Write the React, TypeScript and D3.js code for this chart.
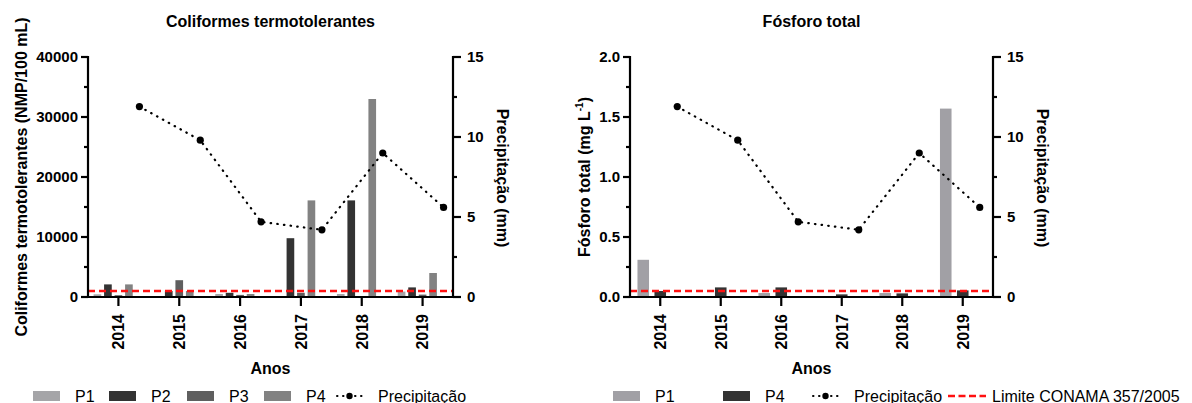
import React from 'react';
import * as d3 from 'd3';

// values
const years = ['2014', '2015', '2016', '2017', '2018', '2019'];
const coliP1 = [450, 80, 500, 50, 500, 900];
const coliP2 = [2100, 1000, 700, 9800, 16100, 1600];
const coliP3 = [300, 2800, 350, 700, 100, 400];
const coliP4 = [2100, 1000, 500, 16100, 33000, 4000];
const fosP1 = [0.31, 0, 0.033, 0, 0.033, 1.57];
const fosP4 = [0.05, 0.08, 0.08, 0.022, 0.03, 0.055];
const precip = [11.9, 9.8, 4.7, 4.2, 9.0, 5.6];
const coliLimit = 1000;
const fosLimit = 0.05;
const coliTicks = [0, 10000, 20000, 30000, 40000];
const fosTicks = [0, 0.5, 1.0, 1.5, 2.0];
const precTicks = [0, 5, 10, 15];

const FONT = '"Liberation Sans", Arial, Helvetica, sans-serif';
const TOP = 57;
const BASE = 297;

type Series = { key: string; values: number[]; color: string };

type PanelProps = {
  xRange: [number, number];
  yMax: number;
  yTicks: number[];
  yFmt: (v: number) => string;
  series: Series[];
  slotHalf: number;
  slotPad: number;
  limit: number;
  title: string;
  yLabel: React.ReactNode;
  yLabelX: number;
  precLabelX: number;
};

const Panel = ({ xRange, yMax, yTicks, yFmt, series, slotHalf, slotPad, limit, title, yLabel, yLabelX, precLabelX }: PanelProps) => {
  const x0 = d3.scaleBand().domain(years).range(xRange);
  const y = d3.scaleLinear().domain([0, yMax]).range([BASE, TOP]);
  const yP = d3.scaleLinear().domain([0, 15]).range([BASE, TOP]);
  const slots = [...series.map(s => s.key), 'prec'];
  const x1 = d3.scaleBand().domain(slots).range([-slotHalf, slotHalf]).paddingInner(slotPad).paddingOuter(slotPad / 2);
  const cx = (yr: string) => (x0(yr) as number) + x0.bandwidth() / 2;
  const precX = (i: number) => cx(years[i]) + (x1('prec') as number) + x1.bandwidth() / 2;

  const line = d3.line<number>().x((_, i) => precX(i)).y(d => yP(d));

  const [left, right] = xRange;
  const yStep = yTicks[1] - yTicks[0];
  const minor = yTicks.slice(0, -1).map(t => t + yStep / 2);
  const precMinor = [2.5, 7.5, 12.5];
  const mid = (left + right) / 2;

  return (
    <g>
      <text x={mid} y={27} textAnchor="middle" fontSize={16} fontWeight="bold">{title}</text>

      {/* bars */}
      {series.map(s => (
        <g key={s.key}>
          {s.values.map((v, i) => (
            <rect key={i}
              x={cx(years[i]) + (x1(s.key) as number)}
              y={y(v)}
              width={x1.bandwidth()}
              height={BASE - y(v)}
              fill={s.color} />
          ))}
        </g>
      ))}

      {/* limit */}
      <line x1={left} x2={right} y1={y(limit)} y2={y(limit)} stroke="#ff1010" strokeWidth={2.5} strokeDasharray="7 4" />

      {/* precipitation */}
      <path d={line(precip) || ''} fill="none" stroke="#000" strokeWidth={2.2} strokeLinecap="round" strokeDasharray="0.5 6.2" />
      {precip.map((v, i) => <circle key={i} cx={precX(i)} cy={yP(v)} r={3.6} fill="#000" />)}

      {/* left axis */}
      <line x1={left} x2={left} y1={TOP - 1} y2={BASE + 1} stroke="#000" strokeWidth={2.2} />
      {yTicks.map(t => (
        <g key={t}>
          <line x1={left - 7} x2={left} y1={y(t)} y2={y(t)} stroke="#000" strokeWidth={2.2} />
          <text x={left - 10} y={y(t)} dy="0.35em" textAnchor="end" fontSize={15} fontWeight="bold">{yFmt(t)}</text>
        </g>
      ))}
      {minor.map(t => <line key={t} x1={left - 4} x2={left} y1={y(t)} y2={y(t)} stroke="#000" strokeWidth={2.2} />)}

      {/* right axis */}
      <line x1={right} x2={right} y1={TOP - 1} y2={BASE + 1} stroke="#000" strokeWidth={2.2} />
      {precTicks.map(t => (
        <g key={t}>
          <line x1={right} x2={right + 8} y1={yP(t)} y2={yP(t)} stroke="#000" strokeWidth={2.2} />
          <text x={right + 14} y={yP(t)} dy="0.35em" fontSize={15} fontWeight="bold">{t}</text>
        </g>
      ))}
      {precMinor.map(t => <line key={t} x1={right} x2={right + 4} y1={yP(t)} y2={yP(t)} stroke="#000" strokeWidth={2.2} />)}

      {/* bottom axis */}
      <line x1={left - 1} x2={right + 1} y1={BASE} y2={BASE} stroke="#000" strokeWidth={2.2} />
      {years.map(yr => (
        <g key={yr}>
          <line x1={cx(yr)} x2={cx(yr)} y1={BASE} y2={BASE + 9} stroke="#000" strokeWidth={2.2} />
          <text transform={`translate(${cx(yr)},${BASE + 17}) rotate(-90)`} dy="0.36em" textAnchor="end" fontSize={16} fontWeight="bold">{yr}</text>
        </g>
      ))}
      <text x={mid} y={374} textAnchor="middle" fontSize={16} fontWeight="bold">Anos</text>

      {/* axis titles */}
      <text transform={`translate(${yLabelX},${(TOP + BASE) / 2}) rotate(-90)`} textAnchor="middle" fontSize={16} fontWeight="bold">{yLabel}</text>
      <text transform={`translate(${precLabelX},${(TOP + BASE) / 2 + 1}) rotate(90)`} textAnchor="middle" dy="0.35em" fontSize={16} fontWeight="bold">Precipitação (mm)</text>
    </g>
  );
};

const Swatch = ({ x, color, label }: { x: number; color: string; label: string }) => (
  <g>
    <rect x={x} y={391} width={27} height={10} fill={color} />
    <text x={x + 42} y={401.5} fontSize={16}>{label}</text>
  </g>
);

const PrecipKey = ({ x }: { x: number }) => (
  <g>
    <line x1={x} x2={x + 25} y1={396} y2={396} stroke="#000" strokeWidth={2} strokeLinecap="round" strokeDasharray="0.5 5.5" />
    <circle cx={x + 12.5} cy={396} r={3.2} fill="#000" />
    <text x={x + 41} y={401.5} fontSize={16}>Precipitação</text>
  </g>
);

const App = () => {
  const coliSeries: Series[] = [
    { key: 'P1', values: coliP1, color: '#a5a5a8' },
    { key: 'P2', values: coliP2, color: '#333333' },
    { key: 'P3', values: coliP3, color: '#5f5f5f' },
    { key: 'P4', values: coliP4, color: '#828282' },
  ];
  const fosSeries: Series[] = [
    { key: 'P1', values: fosP1, color: '#a1a0a5' },
    { key: 'P4', values: fosP4, color: '#333333' },
  ];

  return (
    <svg width={1192} height={403} style={{ position: 'absolute', left: 0, top: 0, background: '#fff' }} fontFamily={FONT}>
      <rect width={1192} height={403} fill="#fff" />
      <Panel
        xRange={[88, 453]}
        yMax={40000}
        yTicks={coliTicks}
        yFmt={d3.format('d')}
        series={coliSeries}
        slotHalf={26.25}
        slotPad={0.27}
        limit={coliLimit}
        title="Coliformes termotolerantes"
        yLabel="Coliformes termotolerantes (NMP/100 mL)"
        yLabelX={27}
        precLabelX={503}
      />
      <Panel
        xRange={[630, 993]}
        yMax={2}
        yTicks={fosTicks}
        yFmt={d3.format('.1f')}
        series={fosSeries}
        slotHalf={25.5}
        slotPad={0.32}
        limit={fosLimit}
        title="Fósforo  total"
        yLabel={<>Fósforo total (mg L<tspan fontSize={10} dy={-7}>-1</tspan><tspan dy={7}>)</tspan></>}
        yLabelX={590}
        precLabelX={1043}
      />

      {/* legends */}
      <Swatch x={33} color="#a5a5a8" label="P1" />
      <Swatch x={109} color="#333333" label="P2" />
      <Swatch x={187} color="#5f5f5f" label="P3" />
      <Swatch x={264} color="#828282" label="P4" />
      <PrecipKey x={337} />

      <Swatch x={613} color="#a1a0a5" label="P1" />
      <Swatch x={723} color="#333333" label="P4" />
      <PrecipKey x={813} />
      <line x1={948} x2={986} y1={396} y2={396} stroke="#ff1010" strokeWidth={2.5} strokeDasharray="7 3.5" />
      <text x={992} y={401.5} fontSize={16}>Limite CONAMA 357/2005</text>
    </svg>
  );
};

export default App;
